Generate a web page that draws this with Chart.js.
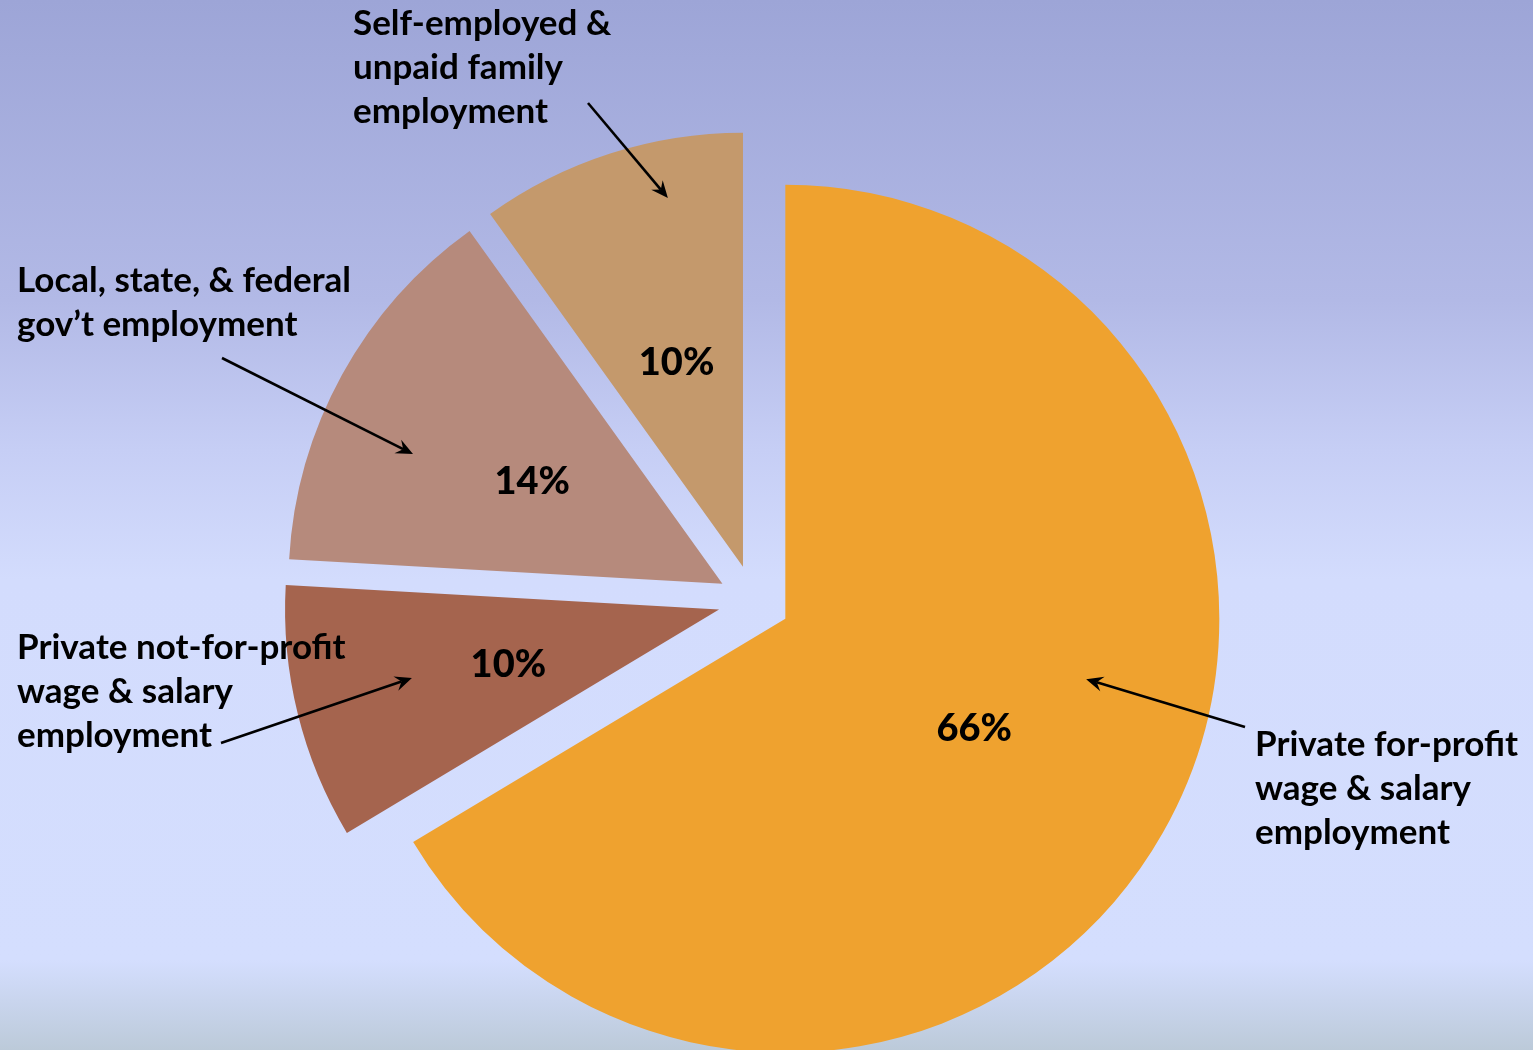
<!DOCTYPE html>
<html>
<head>
<meta charset="utf-8">
<title>Employment by sector</title>
<script src="https://cdn.jsdelivr.net/npm/chart.js@4"></script>
<style>
    html, body { margin: 0; padding: 0; }
    body {
        width: 1533px;
        height: 1050px;
        overflow: hidden;
        background: linear-gradient(to bottom,
            #9da5d7 0px, #b2b9e6 300px, #c6cef5 450px, #d3dcfd 580px,
            #d4defe 960px, #c9d5ee 1000px, #bccad9 1050px);
    }
    #wrap { position: absolute; left: 0; top: 0; width: 1533px; height: 1050px; }
</style>
</head>
<body>
<div id="wrap"><canvas id="pieChart"></canvas></div>
<script>
// Share of employment by sector (percent, labels show them rounded)
const categories = [
    'Private for-profit wage & salary employment',
    'Private not-for-profit wage & salary employment',
    'Local, state, & federal gov\u2019t employment',
    'Self-employed & unpaid family employment'
];
const shares = [66.4, 9.5, 14.2, 9.9];
const sliceColors = ['#efa22f', '#a5644e', '#b68a7c', '#c4996c'];

// Callout text, one entry per slice
const calloutLines = [
    ['Private for-profit', 'wage & salary', 'employment'],
    ['Private not-for-profit', 'wage & salary', 'employment'],
    ['Local, state, & federal', 'gov\u2019t employment'],
    ['Self-employed &', 'unpaid family', 'employment']
];

const FONT = '"Lato", "Open Sans", sans-serif';

/**
 * Pull every slice out from the centre along its own mid angle,
 * keeping the radius the same for all of them.
 */
const explodePlugin = {
    id: 'explode',
    afterDatasetUpdate(chart, args, opts) {
        const meta = chart.getDatasetMeta(args.index);
        meta.data.forEach(arc => {
            const mid = (arc.startAngle + arc.endAngle) / 2;
            arc.x += Math.cos(mid) * opts.distance;
            arc.y += Math.sin(mid) * opts.distance;
        });
    }
};

/**
 * Percent labels inside the slices and arrowed callouts outside
 */
const calloutPlugin = {
    id: 'callouts',
    afterDatasetsDraw(chart, args, opts) {
        const ctx = chart.ctx;
        const meta = chart.getDatasetMeta(0);

        ctx.save();
        meta.data.forEach((arc, i) => {
            const mid = (arc.startAngle + arc.endAngle) / 2;
            const r = arc.outerRadius;

            // value label half way out
            ctx.fillStyle = '#000';
            ctx.font = '900 ' + opts.valueSize + 'px ' + FONT;
            ctx.textAlign = 'center';
            ctx.textBaseline = 'middle';
            ctx.fillText(Math.round(shares[i]) + '%',
                arc.x + Math.cos(mid) * r / 2,
                arc.y + Math.sin(mid) * r / 2 + opts.valueShift);

            // callout text
            const c = opts.layout[i];
            ctx.font = 'bold ' + opts.textSize + 'px ' + FONT;
            ctx.textAlign = 'left';
            ctx.textBaseline = 'alphabetic';
            calloutLines[i].forEach((line, k) => {
                ctx.fillText(line, c.textX, c.baseline + k * opts.lineHeight);
            });

            // arrow into the slice
            const a = arc.startAngle + (arc.endAngle - arc.startAngle) * c.tipAngle;
            const tipX = arc.x + Math.cos(a) * r * c.tipRadius;
            const tipY = arc.y + Math.sin(a) * r * c.tipRadius;
            drawArrow(ctx, c.tail[0], c.tail[1], tipX, tipY);
        });
        ctx.restore();
    }
};

function drawArrow(ctx, x0, y0, x1, y1) {
    const ang = Math.atan2(y1 - y0, x1 - x0);
    const len = 17, half = 7.5, notch = 11;
    ctx.strokeStyle = '#000';
    ctx.fillStyle = '#000';
    ctx.lineWidth = 2.6;
    ctx.beginPath();
    ctx.moveTo(x0, y0);
    ctx.lineTo(x1 - Math.cos(ang) * notch, y1 - Math.sin(ang) * notch);
    ctx.stroke();

    ctx.save();
    ctx.translate(x1, y1);
    ctx.rotate(ang);
    ctx.beginPath();
    ctx.moveTo(0, 0);
    ctx.lineTo(-len, -half);
    ctx.lineTo(-notch, 0);
    ctx.lineTo(-len, half);
    ctx.closePath();
    ctx.fill();
    ctx.restore();
}

const ctx = document.getElementById('pieChart');

new Chart(ctx, {
    type: 'pie',
    data: {
        labels: categories,
        datasets: [{
            data: shares,
            backgroundColor: sliceColors,
            borderWidth: 0,
            radius: 434
        }]
    },
    options: {
        responsive: true,
        maintainAspectRatio: false,
        animation: false,
        layout: {
            padding: { left: 0, right: 25, top: 152, bottom: 0 }
        },
        plugins: {
            legend: { display: false },
            tooltip: { enabled: false },
            explode: { distance: 36 },
            callouts: {
                valueSize: 38,
                valueShift: 3,
                textSize: 35,
                lineHeight: 44,
                layout: [
                    { textX: 1255, baseline: 756, tail: [1245, 727], tipAngle: 0.424, tipRadius: 0.707 },
                    { textX: 17, baseline: 659, tail: [221, 743], tipAngle: 0.538, tipRadius: 0.725 },
                    { textX: 17, baseline: 292, tail: [222, 358], tipAngle: 0.381, tipRadius: 0.773 },
                    { textX: 353, baseline: 35, tail: [588, 103], tipAngle: 0.677, tipRadius: 0.867 }
                ]
            }
        }
    },
    plugins: [explodePlugin, calloutPlugin]
});
</script>
</body>
</html>
